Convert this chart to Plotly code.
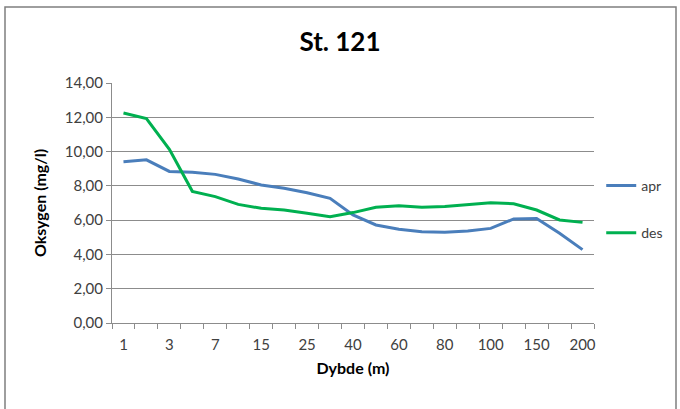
import plotly.graph_objects as go

depths = ["1", "2", "3", "5", "7", "10", "15", "20", "25", "30", "40", "50",
          "60", "70", "80", "90", "100", "125", "150", "175", "200"]
apr = [9.41, 9.52, 8.84, 8.79, 8.67, 8.40, 8.05, 7.86, 7.60, 7.27, 6.30, 5.72,
       5.47, 5.33, 5.29, 5.37, 5.52, 6.07, 6.10, 5.23, 4.28]
des = [12.25, 11.92, 10.13, 7.68, 7.37, 6.92, 6.69, 6.59, 6.40, 6.20, 6.44, 6.75,
       6.84, 6.75, 6.79, 6.90, 7.02, 6.96, 6.59, 6.01, 5.87]
y_ticks = [0, 2, 4, 6, 8, 10, 12, 14]

idx = list(range(len(depths)))
label_idx = idx[::2]
label_txt = [depths[i] for i in label_idx]

FONT = "Lato, 'Open Sans', sans-serif"
GRID = "#8c8c8c"
W, H = 680, 409
L, T, PW, PH = 112, 83, 482, 240

fig = go.Figure()
fig.add_trace(go.Scatter(x=idx, y=apr, name="apr", mode="lines",
                         line=dict(color="#4A7EBB", width=3), legendgroup="a"))
fig.add_trace(go.Scatter(x=idx, y=des, name="des", mode="lines",
                         line=dict(color="#00B050", width=3), legendgroup="b"))

fig.update_layout(
    width=W, height=H,
    margin=dict(l=L, r=W - L - PW, t=T, b=H - T - PH),
    paper_bgcolor="white", plot_bgcolor="white",
    separators=", ",
    font=dict(family=FONT, size=14, color="#404040"),
    title=dict(text="<b>St. 121</b>", x=0.5, xanchor="center", y=(H - 42) / H, yanchor="middle",
               font=dict(family=FONT, size=26, color="black")),
    legend=dict(x=1.015, y=(323 - 170) / PH, xanchor="left", yanchor="top",
                font=dict(family=FONT, size=14, color="#404040"),
                tracegroupgap=26, bgcolor="rgba(0,0,0,0)"),
    showlegend=True,
)
fig.update_xaxes(
    range=[-0.5, 20.5], tickmode="array", tickvals=label_idx, ticktext=label_txt,
    ticks="", showgrid=False, zeroline=False,
    showline=True, linecolor=GRID, linewidth=1,
    minor=dict(ticks="outside", tick0=-0.5, dtick=1, ticklen=5, tickcolor=GRID, showgrid=False),
    ticklabelstandoff=8,
    title=dict(text="<b>Dybde (m)</b>", font=dict(family=FONT, size=16, color="black"), standoff=10),
    tickfont=dict(size=15, color="#404040"),
)
fig.update_yaxes(
    range=[0, 14], tickmode="array", tickvals=y_ticks, tickformat=".2f",
    ticks="outside", ticklen=5, tickcolor=GRID,
    showgrid=True, gridcolor=GRID, gridwidth=1, zeroline=False,
    showline=True, linecolor=GRID, linewidth=1,
    title=dict(text="<b>Oksygen (mg/l)</b>", font=dict(family=FONT, size=16, color="black"), standoff=14),
    tickfont=dict(size=15, color="#404040"),
)
fig.add_shape(type="rect", xref="paper", yref="paper",
              x0=(5 - L) / PW, x1=(676 - L) / PW,
              y0=(T + PH - 412) / PH, y1=(T + PH - 7) / PH,
              line=dict(color="#7f7f7f", width=1.5), fillcolor="rgba(0,0,0,0)", layer="below")

fig.write_html("out.html", config={"displayModeBar": False},
               post_script="document.body.style.margin='0';")
